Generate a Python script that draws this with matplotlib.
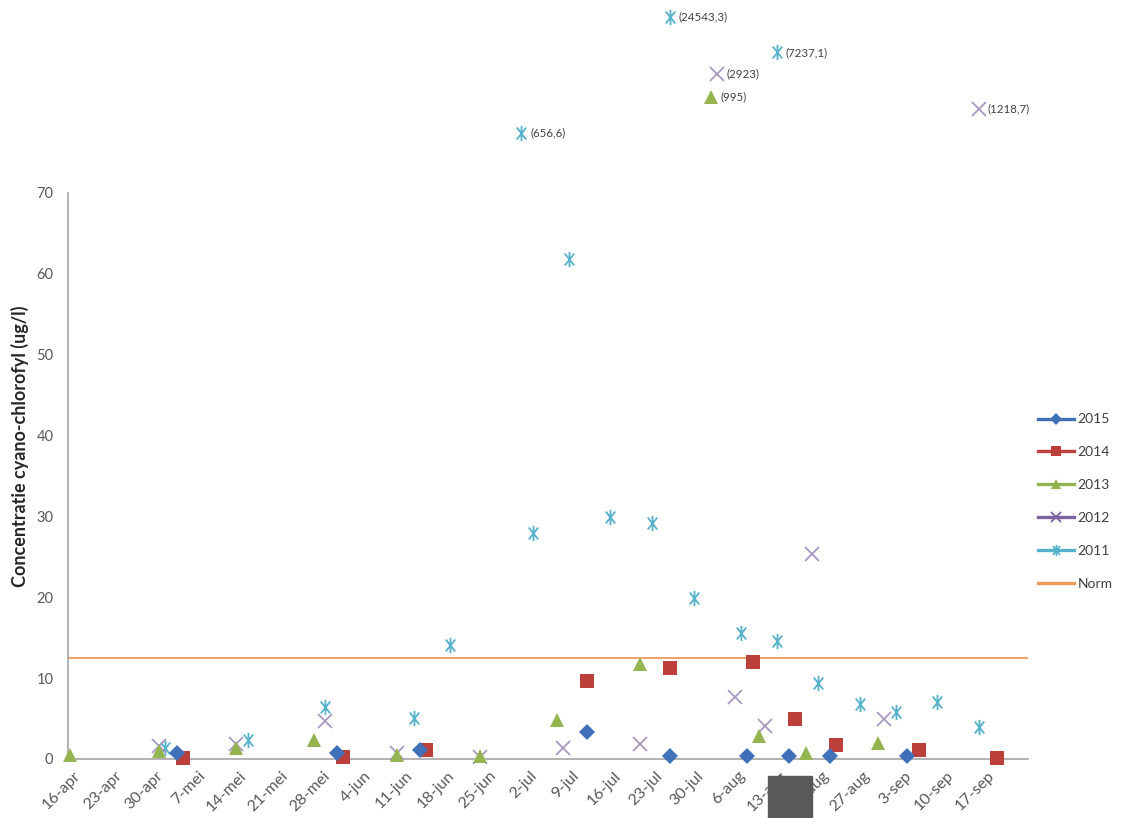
import matplotlib
matplotlib.use("Agg")
import numpy as np
import pandas as pd
import matplotlib.pyplot as plt
import matplotlib.transforms as mtransforms
from matplotlib.lines import Line2D
from matplotlib.path import Path
from matplotlib.patches import Rectangle

plt.rcParams['font.family'] = ['Lato', 'DejaVu Sans']

# ------------------------------------------------------------
# DATA — all years drawn on one calendar (mm-dd)
# ------------------------------------------------------------
YEAR = 2015

dates_2015 = ["05-04", "05-31", "06-14", "07-12", "07-26", "08-08", "08-15", "08-22", "09-04"]
vals_2015 = [0.7, 0.8, 1.1, 3.3, 0.4, 0.4, 0.4, 0.4, 0.4]

dates_2014 = ["05-05", "06-01", "06-15", "07-12", "07-26", "08-09", "08-16", "08-23", "09-06", "09-19"]
vals_2014 = [0.1, 0.3, 1.1, 9.7, 11.3, 12.0, 4.9, 1.7, 1.1, 0.1]

dates_2013 = ["04-16", "05-01", "05-14", "05-27", "06-10", "06-24", "07-07", "07-21", "08-10", "08-18", "08-30"]
vals_2013 = [0.5, 1.0, 1.3, 2.4, 0.5, 0.4, 4.8, 11.7, 2.8, 0.7, 2.0]

dates_2012 = ["05-01", "05-14", "05-29", "06-10", "06-24", "07-08", "07-21", "08-06", "08-11", "08-19", "08-31"]
vals_2012 = [1.6, 1.9, 4.7, 0.8, 0.2, 1.3, 1.9, 7.7, 4.1, 25.4, 4.9]

dates_2011 = ["05-02", "05-16", "05-29", "06-13", "06-19", "07-03", "07-09", "07-16", "07-23",
              "07-30", "08-07", "08-13", "08-20", "08-27", "09-02", "09-09", "09-16"]
vals_2011 = [1.4, 2.4, 6.4, 5.1, 14.1, 27.9, 61.8, 29.9, 29.2,
             19.9, 15.6, 14.6, 9.4, 6.8, 5.8, 7.0, 4.0]

norm_value = 12.5

# values far above the axis, drawn in a row above the plot with their value as text
outlier_series = ["2011", "2011", "2011", "2012", "2012", "2013"]
outlier_dates = ["07-01", "07-26", "08-13", "08-03", "09-16", "08-02"]
outlier_labels = ["(656,6)", "(24543,3)", "(7237,1)", "(2923)", "(1218,7)", "(995)"]
outlier_rows = [77.4, 91.8, 87.4, 84.7, 80.4, 81.9]

tick_labels = ["16-apr", "23-apr", "30-apr", "7-mei", "14-mei", "21-mei", "28-mei",
               "4-jun", "11-jun", "18-jun", "25-jun", "2-jul", "9-jul", "16-jul",
               "23-jul", "30-jul", "6-aug", "13-aug", "20-aug", "27-aug", "3-sep",
               "10-sep", "17-sep"]


def to_dates(mmdd):
    return pd.to_datetime([f"{YEAR}-{d}" for d in mmdd])


# Excel-like asterisk marker (vertical bar + X)
asterisk = Path([(0, -1), (0, 1), (-0.62, -0.78), (0.62, 0.78), (-0.62, 0.78), (0.62, -0.78)],
                [Path.MOVETO, Path.LINETO] * 3)

styles = {
    "2015": dict(marker="D", color="#3f70b8", ms=8, mew=0, legend_ms=6),
    "2014": dict(marker="s", color="#bb3f3a", ms=9.5, mew=0, legend_ms=7),
    "2013": dict(marker="^", color="#93b44f", ms=9.5, mew=0, legend_ms=7),
    "2012": dict(marker="x", color="#a898c2", ms=9.5, mew=1.3, legend_ms=7, line="#7e63a3"),
    "2011": dict(marker=asterisk, color="#56b2ca", ms=11, mew=1.3, legend_ms=8),
}
series = {
    "2015": (dates_2015, vals_2015),
    "2014": (dates_2014, vals_2014),
    "2013": (dates_2013, vals_2013),
    "2012": (dates_2012, vals_2012),
    "2011": (dates_2011, vals_2011),
}

# ------------------------------------------------------------
# FIGURE
# ------------------------------------------------------------
fig = plt.figure(figsize=(11.25, 8.18), dpi=100)
ax = fig.add_axes([68 / 1125, 1 - 759 / 818, 960 / 1125, 566 / 818])

for name in ["2011", "2012", "2013", "2014", "2015"]:
    st = styles[name]
    d, v = series[name]
    ax.plot(to_dates(d), v, linestyle="none", marker=st["marker"], markersize=st["ms"],
            color=st["color"], markeredgewidth=st["mew"], clip_on=False, zorder=3)

# outliers above the axis
for name, d, lab, row in zip(outlier_series, outlier_dates, outlier_labels, outlier_rows):
    st = styles[name]
    x = to_dates([d])
    ax.plot(x, [row], linestyle="none", marker=st["marker"], markersize=st["ms"],
            color=st["color"], markeredgewidth=st["mew"], clip_on=False, zorder=3)
    ax.annotate(lab, (x[0], row), xytext=(6.5, 0), textcoords="offset points",
                ha="left", va="center", fontsize=8.3, color="#404040", annotation_clip=False)

ax.axhline(norm_value, color="#ef9a55", linewidth=1.3, zorder=2)

# axes styling
start = pd.Timestamp(f"{YEAR}-04-16")
ax.set_xlim(start - pd.Timedelta(days=0.34), start + pd.Timedelta(days=161.3))
ax.set_ylim(0, 70)
ax.set_yticks(np.arange(0, 71, 10))
ticks = pd.date_range(start, periods=len(tick_labels), freq="7D")
ax.set_xticks(ticks)
ax.set_xticklabels(tick_labels, rotation=45, ha="right", va="top",
                   rotation_mode="anchor")
ax.tick_params(axis="x", length=0, pad=7, labelsize=11.5, labelcolor="#595959")
ax.tick_params(axis="y", length=0, pad=10.5, labelsize=10.5, labelcolor="#595959")
shift = mtransforms.ScaledTranslation(3 / 100, 0, fig.dpi_scale_trans)
for lab in ax.get_xticklabels():
    lab.set_transform(lab.get_transform() + shift)

for side in ["top", "right"]:
    ax.spines[side].set_visible(False)
for side in ["left", "bottom"]:
    ax.spines[side].set_color("#a6a6a6")
    ax.spines[side].set_linewidth(1.2)

fig.text(20 / 1125, 1 - 446 / 818, "Concentratie cyano-chlorofyl (ug/l)", rotation=90,
         ha="center", va="center", fontsize=13, fontweight="bold", color="#262626")

# legend (lines through markers, Excel style)
handles = []
for name in ["2015", "2014", "2013", "2012", "2011"]:
    st = styles[name]
    handles.append(Line2D([0], [0], color=st.get("line", st["color"]), linewidth=2.4,
                          marker=st["marker"], markersize=st["legend_ms"],
                          markeredgewidth=st["mew"], label=name))
handles.append(Line2D([0], [0], color="#ef9a55", linewidth=2.4, label="Norm"))
fig.legend(handles=handles, loc="upper left", bbox_to_anchor=(1025 / 1125, 1 - 401 / 818),
           frameon=False, fontsize=10, handlelength=2.6, handletextpad=0.3,
           labelspacing=1.5, labelcolor="#404040")

# grey block covering part of the date axis
fig.add_artist(Rectangle((768 / 1125, 0), 44 / 1125, 42 / 818, transform=fig.transFigure,
                         color="#595959", zorder=10))

fig.savefig("out.png", dpi=100)
